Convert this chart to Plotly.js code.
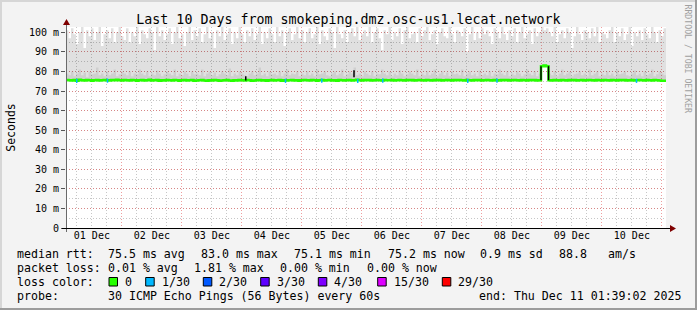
<!DOCTYPE html>
<html><head><meta charset="utf-8">
<script src="https://cdn.plot.ly/plotly-3.0.1.min.js"></script>
<style>html,body{margin:0;padding:0;background:#f3f3f3;overflow:hidden}#chart{width:697px;height:310px}</style>
</head><body><div id="chart"></div>
<script>
// ---- data (hourly samples starting at the graph start) ----
const startTime = '2025-12-01 01:39:02';
const endTime = '2025-12-11 01:39:02';
const startUTC = Date.UTC(2025, 11, 1, 1, 39, 2);
const stepHours = 1;

// upper edge of the smoke (slowest of the 30 pings), ms
const smokeMax = [
 101,97,102,99,94,100,103,92,101,98,102,96,100,103,93,99,101,97,102,95,100,103,98,96,
 102,95,100,98,103,94,101,99,97,102,100,91,103,98,101,96,99,102,94,100,103,97,99,93,
 100,103,96,101,98,102,95,99,103,97,100,92,101,98,103,96,99,102,94,100,97,103,99,95,
 101,98,102,96,99,103,94,100,97,102,99,95,103,98,101,93,100,102,96,99,103,97,101,95,
 100,102,97,99,103,94,101,98,96,102,100,92,103,99,97,101,95,100,102,98,103,96,99,101,
 98,103,95,100,102,97,91,101,99,103,96,100,98,102,94,101,103,97,99,100,95,102,98,101,
 103,96,99,101,94,100,102,98,97,103,99,95,101,100,98,102,90,99,103,96,100,97,102,99,
 101,98,94,102,100,97,103,99,96,101,98,102,95,100,103,97,99,101,94,102,98,100,103,101,
 102,100,98,103,95,99,101,97,102,100,92,98,103,99,96,101,100,97,102,98,103,95,100,99,
 97,101,103,95,100,98,102,96,99,103,93,100,98,101,96,102,99,97,103,100,95,101,98,102,100
];
// upper edge of the denser inner smoke band, ms
const smokeMid = [
 79,78,80,77.5,79,81,78,79.5,77,80,78.5,79,82,78,79,77.5,80,78,79,81,77.5,78.5,80,79,
 78,80,77.5,79,78.5,81,79,78,80,77.5,79,78,80.5,79,77.5,78.5,80,79,78,81,77.5,79,78,80,
 79,77.5,80,78.5,79,78,81,77.5,79,80,78,79.5,77.5,78.5,80,79,78,81.5,77.5,79,78,80,79,78,
 77.5,79,80,78,79,82,78,79,77.5,80,78.5,79,78,80,77.5,79,81,78,79,78.5,80,77.5,79,78,
 80,78,79,77.5,81,78.5,79,80,78,77.5,79,80,78,79,81,77.5,78.5,80,79,82,78,79,77.5,80,
 79,78,80,77.5,79,78.5,81,79,78,80,77.5,79,78,80.5,79,77.5,78.5,80,79,78,81,77.5,79,78,
 80,78,79,81,77.5,79,80,78,79.5,77.5,80,78.5,79,78,81,77.5,79,80,78,79,77.5,80.5,78,79,
 78,80,77.5,79,78.5,81,79,78,80,77.5,79,78,80,79,77.5,78.5,81,79,78,80,77.5,79,83.5,83.8,
 83.4,79,78,80,77.5,79,81,78,79,80,77.5,78.5,79,80,78,79,77.5,81,78,79,80,77.5,79,78,
 80,78,79,77.5,81,78.5,79,80,78,77.5,79,80.5,78,79,77.5,80,78,79,81,77.5,78.5,80,79,78,79
];
// median round trip time, ms
const medianRtt = [
 75.6,75.5,75.4,75.6,75.3,75.7,75.5,75.4,75.6,75.5,75.3,75.5,75.6,75.4,75.5,75.6,75.5,75.4,75.6,75.5,75.7,75.5,75.4,75.6,
 75.5,75.4,75.6,75.5,75.3,75.5,75.6,75.4,75.5,75.7,75.4,75.5,75.6,75.3,75.5,75.4,75.6,75.5,75.4,75.6,75.5,75.3,75.5,75.6,
 75.4,75.5,75.6,75.3,75.4,75.5,75.6,75.4,75.3,75.5,75.4,75.6,75.5,75.3,75.4,75.5,75.6,75.4,75.3,75.5,75.4,75.6,75.5,75.4,
 75.6,75.5,75.3,75.4,75.5,75.6,75.4,75.5,75.3,75.5,75.6,75.4,75.5,75.6,75.3,75.5,75.4,75.5,75.6,75.4,75.5,75.3,75.5,75.6,
 75.5,75.4,75.6,75.5,75.3,75.5,75.6,75.4,75.5,75.6,75.4,75.5,75.3,75.6,75.5,75.4,75.5,75.6,75.4,75.5,75.7,75.5,75.4,75.6,
 75.5,75.6,75.4,75.5,75.6,75.5,75.4,75.6,75.5,75.5,75.6,75.4,75.5,75.6,75.5,75.4,75.6,75.5,75.6,75.4,75.5,75.6,75.5,75.4,
 75.6,75.5,75.4,75.6,75.5,75.6,75.4,75.5,75.6,75.5,75.4,75.6,75.5,75.6,75.5,75.4,75.6,75.5,75.4,75.6,75.5,75.6,75.4,75.5,
 75.6,75.5,75.4,75.6,75.5,75.4,75.6,75.5,75.6,75.4,75.5,75.6,75.5,75.4,75.6,75.5,75.4,75.6,75.5,75.6,75.4,75.5,82.6,83.0,
 82.7,75.5,75.4,75.6,75.5,75.4,75.6,75.5,75.4,75.6,75.5,75.6,75.4,75.5,75.6,75.4,75.5,75.6,75.5,75.4,75.6,75.5,75.4,75.6,
 75.5,75.4,75.6,75.5,75.4,75.6,75.5,75.6,75.4,75.5,75.6,75.4,75.5,75.6,75.5,75.4,75.6,75.5,75.4,75.6,75.5,75.4,75.3,75.2,75.2
];
// samples with 1/30 packet loss (hours after start) and their rtt
const lossHours = [4.3, 16.6, 87.8, 102.3, 116.7, 126.7, 160.7, 172.4, 228.2];
const lossRtt = [75.2, 75.3, 75.2, 75.3, 75.2, 75.3, 75.2, 75.3, 75.2];
// short jumps of the median drawn in black (hours after start), ms
const jumpHours = [71.9, 71.9, null, 115.2, 115.2, null, 190, 190, null, 193, 193];
const jumpRtt = [75.4, 77.5, null, 77.0, 80.6, null, 75.5, 82.6, null, 82.7, 75.5];

const dayLabels = ['01 Dec','02 Dec','03 Dec','04 Dec','05 Dec','06 Dec','07 Dec','08 Dec','09 Dec','10 Dec'];
const dayNoons = ['2025-12-01 12:00','2025-12-02 12:00','2025-12-03 12:00','2025-12-04 12:00','2025-12-05 12:00',
                  '2025-12-06 12:00','2025-12-07 12:00','2025-12-08 12:00','2025-12-09 12:00','2025-12-10 12:00'];
const yTickVals = [0,10,20,30,40,50,60,70,80,90,100];
const yTickText = ['0','10 m','20 m','30 m','40 m','50 m','60 m','70 m','80 m','90 m','100 m'];

const titleText = 'Last 10 Days from smokeping.dmz.osc-us1.lecat.network';
const legendRtt = [['median rtt:',16],['75.5 ms avg',107.3],['83.0 ms max',200],['75.1 ms min',293],
                   ['75.2 ms now',387.3],['0.9 ms sd',479.3],['88.8',558.3],['am/s',607.3]];
const legendLoss = [['packet loss:',16],['0.01 % avg',106.7],['1.81 % max',193.3],['0.00 % min',279.3],['0.00 % now',366]];
const lossLabels = ['0','1/30','2/30','3/30','4/30','15/30','29/30'];
const lossColors = ['#26ff00','#00b8ff','#0059ff','#5e00ff','#7e00ff','#dd00ff','#ff0000'];
const lossBoxX = [109, 145.7, 203.3, 260.7, 318.3, 377.7, 442.3];
const probeText = [['probe:',16],['30 ICMP Echo Pings (56 Bytes) every 60s',107.3],['end: Thu Dec 11 01:39:02 2025',478.3]];

// ---- build ----
const tOf = h => (h === null ? null : startUTC + h * 3600000);
const times = medianRtt.map((_, i) => tOf(i * stepHours));

const FONT = 'DejaVu Sans Mono';
const L = 66, T = 27, W = 600, H = 201;
const X = px => (px - L) / W;
const Y = py => (T + H - py) / H;

const base = {type: 'scatter', mode: 'lines', x: times, hoverinfo: 'skip', showlegend: false};
const traces = [
  Object.assign({}, base, {y: medianRtt, line: {width: 0, shape: 'hv'}}),
  Object.assign({}, base, {y: smokeMax, line: {width: 0, shape: 'hv'}, fill: 'tonexty', fillcolor: 'rgba(0,0,0,0.12)'}),
  Object.assign({}, base, {y: medianRtt, line: {width: 0, shape: 'hv'}}),
  Object.assign({}, base, {y: smokeMid, line: {width: 0, shape: 'hv'}, fill: 'tonexty', fillcolor: 'rgba(0,0,0,0.075)'}),
  Object.assign({}, base, {y: medianRtt, line: {width: 2.5, shape: 'hv', color: '#26ff00'}}),
  {type: 'scatter', mode: 'lines', x: jumpHours.map(tOf), y: jumpRtt, connectgaps: false,
   line: {width: 1.5, color: '#000'}, hoverinfo: 'skip', showlegend: false},
  {type: 'scatter', mode: 'markers', xaxis: 'x2', x: lossHours.map(tOf), y: lossRtt,
   marker: {symbol: 'line-ns', size: 3, line: {width: 1.5, color: '#00b8ff'}}, hoverinfo: 'skip', showlegend: false}
];

const shapes = [
  // frame shading
  {type: 'rect', xref: 'paper', yref: 'paper', x0: X(0), x1: X(697), y0: Y(0), y1: Y(2), fillcolor: '#d6d6d6', line: {width: 0}},
  {type: 'rect', xref: 'paper', yref: 'paper', x0: X(0), x1: X(2), y0: Y(0), y1: Y(310), fillcolor: '#d6d6d6', line: {width: 0}},
  {type: 'rect', xref: 'paper', yref: 'paper', x0: X(695), x1: X(697), y0: Y(0), y1: Y(310), fillcolor: '#9c9c9c', line: {width: 0}},
  {type: 'rect', xref: 'paper', yref: 'paper', x0: X(0), x1: X(697), y0: Y(308), y1: Y(310), fillcolor: '#9c9c9c', line: {width: 0}},
  // axes
  {type: 'line', xref: 'paper', yref: 'paper', x0: X(66.5), x1: X(66.5), y0: Y(232), y1: Y(24), line: {color: '#6a6a6a', width: 1}},
  {type: 'line', xref: 'paper', yref: 'paper', x0: X(62), x1: X(670), y0: Y(228.5), y1: Y(228.5), line: {color: '#000', width: 1}},
  {type: 'path', xref: 'paper', yref: 'paper', fillcolor: '#7f0000', line: {width: 0},
   path: `M ${X(66.5)} ${Y(19)} L ${X(63)} ${Y(25)} L ${X(70)} ${Y(25)} Z`},
  {type: 'path', xref: 'paper', yref: 'paper', fillcolor: '#7f0000', line: {width: 0},
   path: `M ${X(676)} ${Y(228.5)} L ${X(670)} ${Y(225)} L ${X(670)} ${Y(232)} Z`}
];
lossBoxX.forEach((bx, i) => shapes.push({type: 'rect', xref: 'paper', yref: 'paper',
  x0: X(bx), x1: X(bx + 8.5), y0: Y(286), y1: Y(277.5), fillcolor: lossColors[i], line: {color: '#000', width: 1}}));

const annotations = [];
const ann = (text, px, py, extra) => annotations.push(Object.assign({
  text: text, xref: 'paper', yref: 'paper', x: X(px), y: Y(py), xanchor: 'left', yanchor: 'middle',
  showarrow: false, borderpad: 0, font: {family: FONT, size: 11.6, color: '#000'}}, extra || {}));
legendRtt.forEach(([t, px]) => ann(t, px, 253.5));
legendLoss.forEach(([t, px]) => ann(t, px, 267.5));
ann('loss color:', 16, 281.5);
lossLabels.forEach((t, i) => ann(t, lossBoxX[i] + 15, 281.5));
probeText.forEach(([t, px]) => ann(t, px, 295.5));
ann('RRDTOOL / TOBI OETIKER', 687.5, 59, {xanchor: 'center', textangle: 90, font: {family: FONT, size: 8.2, color: '#a0a0a0'}});

const layout = {
  width: 697, height: 310, autosize: false,
  margin: {l: L, r: 697 - L - W, t: T, b: 310 - T - H, pad: 0},
  paper_bgcolor: '#f3f3f3', plot_bgcolor: '#ffffff',
  font: {family: FONT, size: 10, color: '#000'},
  showlegend: false, hovermode: false,
  title: {text: titleText, font: {family: FONT, size: 13.3, color: '#000'},
          xref: 'container', yref: 'container', x: 0.5, xanchor: 'center', y: 1 - 19.7 / 310, yanchor: 'middle'},
  xaxis: {type: 'date', range: [startTime, endTime], fixedrange: true,
          tickmode: 'linear', tick0: '2025-12-01 00:00', dtick: 86400000,
          showticklabels: false, ticks: '', showline: false, zeroline: false,
          showgrid: true, gridcolor: 'rgba(225,80,80,0.55)', griddash: '1px,2px', gridwidth: 1,
          minor: {tick0: '2025-12-01 00:00', dtick: 21600000, showgrid: true, gridcolor: 'rgba(130,130,130,0.45)', griddash: '1px,2px', ticks: ''}},
  xaxis2: {type: 'date', overlaying: 'x', anchor: 'y', side: 'bottom', range: [startTime, endTime], fixedrange: true,
           tickmode: 'array', tickvals: dayNoons, ticktext: dayLabels, ticks: '', showgrid: false, zeroline: false, showline: false,
           tickfont: {family: FONT, size: 10, color: '#000'}},
  yaxis: {range: [0, 102.7], fixedrange: true, tickmode: 'array', tickvals: yTickVals, ticktext: yTickText,
          ticks: 'outside', ticklen: 4, tickcolor: '#555', showline: false, zeroline: false,
          showgrid: true, gridcolor: 'rgba(225,80,80,0.55)', griddash: '1px,2px',
          minor: {dtick: 5, tick0: 0, showgrid: true, gridcolor: 'rgba(130,130,130,0.45)', griddash: '1px,2px', ticks: ''},
          tickfont: {family: FONT, size: 10, color: '#000'},
          title: {text: 'Seconds', font: {family: FONT, size: 11.5, color: '#000'}, standoff: 10}},
  shapes: shapes, annotations: annotations
};

Plotly.newPlot('chart', traces, layout, {staticPlot: true, displayModeBar: false});
</script></body></html>
